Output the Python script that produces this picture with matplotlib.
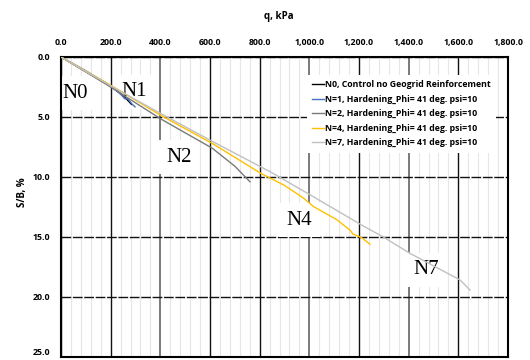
import matplotlib
matplotlib.use("Agg")
import matplotlib.pyplot as plt
from matplotlib.ticker import FuncFormatter, MultipleLocator

# Load (kPa) vs. normalised settlement S/B (%) for each model
n0_q = [0, 100, 200, 250, 284]
n0_s = [0, 1.2, 2.45, 3.2, 3.95]

n1_q = [0, 100, 200, 240, 258, 268, 285, 298]
n1_s = [0, 1.15, 2.4, 3.1, 3.5, 3.45, 3.9, 4.15]

n2_q = [0, 200, 405, 609, 700, 761]
n2_s = [0, 2.5, 5.2, 7.6, 9.1, 10.4]

n4_q = [0, 200, 405, 609, 805, 900, 976, 1016, 1110, 1165, 1175, 1210, 1244]
n4_s = [0, 2.35, 4.9, 7.2, 9.7, 10.7, 11.75, 12.45, 13.55, 14.45, 14.75, 15.05, 15.6]

n7_q = [0, 200, 405, 612, 842, 1016, 1217, 1298, 1405, 1607, 1647]
n7_s = [0, 2.4, 4.75, 7.06, 9.56, 11.64, 14.08, 15.0, 16.36, 18.58, 19.42]

series_labels = [
    "N0, Control no Geogrid Reinforcement",
    "N=1, Hardening_Phi= 41 deg. psi=10",
    "N=2, Hardening_Phi= 41 deg. psi=10",
    "N=4, Hardening_Phi= 41 deg. psi=10",
    "N=7, Hardening_Phi= 41 deg. psi=10",
]
series_colors = ["#000000", "#4472C4", "#7a7a7a", "#FFC000", "#C0C0C0"]

# Curve tags and their anchor positions (q, S/B)
tag_text = ["N0", "N1", "N2", "N4", "N7"]
tag_q = [55, 295, 475, 960, 1470]
tag_s = [3.0, 2.9, 8.35, 13.6, 17.75]

fig = plt.figure(figsize=(5.3, 3.6), dpi=100)
ax = fig.add_axes([61 / 530, 1 - 357 / 360, 447 / 530, 300 / 360])

ui_font = "Open Sans"

curves = [(n0_q, n0_s), (n1_q, n1_s), (n2_q, n2_s), (n4_q, n4_s), (n7_q, n7_s)]
for (q, s), lab, col in zip(curves, series_labels, series_colors):
    ax.plot(q, s, color=col, lw=1.0, label=lab, zorder=3)

ax.set_xlim(0, 1800)
ax.set_ylim(25, 0)
ax.xaxis.set_major_locator(MultipleLocator(200))
ax.xaxis.set_minor_locator(MultipleLocator(40))
ax.yaxis.set_major_locator(MultipleLocator(5))
ax.xaxis.tick_top()
ax.xaxis.set_label_position("top")
ax.xaxis.set_major_formatter(FuncFormatter(lambda v, p: f"{v:,.1f}"))
ax.yaxis.set_major_formatter(FuncFormatter(lambda v, p: f"{v:.1f}"))
ax.tick_params(axis="x", which="both", length=0, pad=7)
ax.tick_params(axis="y", which="both", length=0, pad=8)
fig.canvas.draw()
for lab in ax.get_xticklabels() + ax.get_yticklabels():
    lab.set_fontfamily(ui_font)
    lab.set_fontweight("bold")
    lab.set_fontsize(6.3)
# keep the bottom tick label inside the canvas
for tick in ax.yaxis.get_major_ticks():
    if abs(tick.get_loc() - 25) < 1e-6:
        tick.label1.set_verticalalignment("bottom")

ax.set_axisbelow(True)
ax.grid(True, axis="x", which="minor", color="#e6e6e6", lw=0.8)
ax.grid(True, axis="x", which="major", color="#111111", lw=1.0)
ax.grid(True, axis="y", which="major", color="#111111", lw=1.0,
        linestyle=(0, (7, 1.2)))
for line, v in zip(ax.get_xgridlines(), ax.get_xticks()):
    if round(v) in (400, 1000, 1400):
        line.set_color("#6f6f6f")
        line.set_linewidth(1.3)

for sp in ax.spines.values():
    sp.set_color("#000000")
    sp.set_linewidth(1.5)

fig.text(279 / 530, 1 - 16 / 360, "q, kPa", ha="center", va="center",
         fontfamily=ui_font, fontweight="bold", fontsize=7)
fig.text(23 / 530, 1 - 192 / 360, "S/B, %", ha="center", va="center",
         rotation=90, fontfamily=ui_font, fontweight="bold", fontsize=7)

for t, q, s in zip(tag_text, tag_q, tag_s):
    ax.text(q, s, t, ha="center", va="center", fontfamily="Liberation Serif",
            fontsize=15, zorder=2,
            bbox=dict(boxstyle="square,pad=0.35", fc="white", ec="none"))

leg = ax.legend(loc="upper left", bbox_to_anchor=((307 - 61) / 447, 1 - (75 - 57) / 300),
                frameon=True, fancybox=False, framealpha=1, edgecolor="none",
                facecolor="white", borderaxespad=0, borderpad=0.6,
                handlelength=1.3, handletextpad=0.15, labelspacing=0.62,
                prop={"family": ui_font, "weight": "bold", "size": 6.3})
leg.set_zorder(4)

fig.savefig("out.png", dpi=100)
